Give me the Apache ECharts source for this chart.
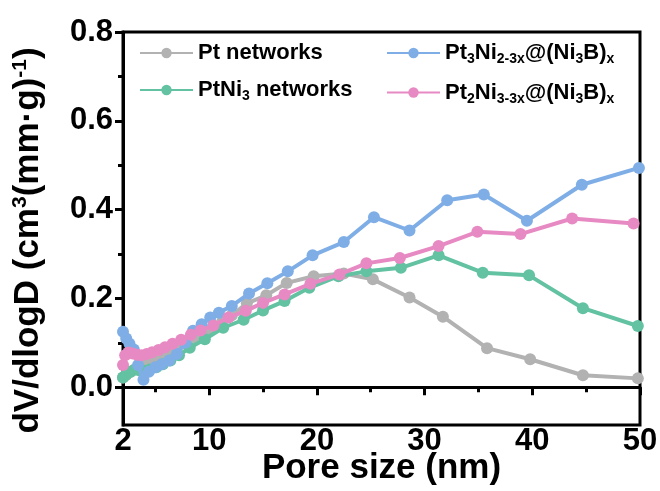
<!DOCTYPE html>
<html>
<head>
<meta charset="utf-8">
<script src="https://cdn.jsdelivr.net/npm/echarts@6/dist/echarts.min.js"></script>
<style>
html,body{margin:0;padding:0;background:#fff;}
#chart{width:660px;height:491px;}
</style>
</head>
<body>
<div id="chart"></div>
<script>
// ---- data ----
const seriesNames = ['Pt networks', 'PtNi3 networks', 'Pt3Ni2-3x@(Ni3B)x', 'Pt2Ni3-3x@(Ni3B)x'];

const ptX = [2.0, 2.3, 2.7, 3.1, 3.6, 4.1, 4.7, 5.3, 6.0, 6.8, 7.7, 8.7, 9.9, 11.2, 12.1, 13.5, 15.3, 17.2, 19.7, 22.5, 25.2, 28.6, 31.7, 35.8, 39.8, 44.7, 49.8];
const ptY = [0.022, 0.028, 0.035, 0.040, 0.046, 0.052, 0.058, 0.066, 0.075, 0.086, 0.098, 0.112, 0.128, 0.147, 0.162, 0.189, 0.207, 0.235, 0.250, 0.256, 0.243, 0.202, 0.159, 0.088, 0.063, 0.027, 0.020];

const ptni3X = [2.0, 2.3, 2.7, 3.1, 3.5, 4.0, 4.5, 5.1, 5.7, 6.4, 7.2, 8.2, 9.6, 11.3, 13.2, 15.0, 17.0, 19.3, 22.0, 24.6, 27.8, 31.3, 35.4, 39.7, 44.7, 49.8];
const ptni3Y = [0.022, 0.028, 0.035, 0.040, 0.038, 0.037, 0.040, 0.045, 0.052, 0.060, 0.072, 0.089, 0.108, 0.134, 0.152, 0.173, 0.194, 0.224, 0.250, 0.261, 0.269, 0.297, 0.258, 0.252, 0.178, 0.138];

const pt3X = [2.0, 2.3, 2.6, 3.0, 3.4, 3.9, 4.4, 5.0, 5.6, 6.3, 7.0, 7.8, 8.5, 9.3, 10.1, 10.9, 12.1, 13.7, 15.4, 17.3, 19.6, 22.5, 25.3, 28.6, 32.1, 35.5, 39.5, 44.6, 49.9];
const pt3Y = [0.125, 0.110, 0.098, 0.085, 0.050, 0.017, 0.035, 0.045, 0.052, 0.060, 0.075, 0.100, 0.127, 0.142, 0.157, 0.168, 0.183, 0.211, 0.234, 0.261, 0.297, 0.327, 0.383, 0.353, 0.421, 0.434, 0.375, 0.456, 0.494];

const pt2X = [2.0, 2.2, 2.5, 2.9, 3.3, 3.7, 4.2, 4.7, 5.3, 5.9, 6.6, 7.4, 8.3, 9.2, 10.4, 11.8, 13.4, 15.0, 17.0, 19.4, 22.1, 24.6, 27.7, 31.3, 34.9, 38.9, 43.7, 49.4];
const pt2Y = [0.050, 0.072, 0.078, 0.076, 0.073, 0.072, 0.075, 0.079, 0.084, 0.090, 0.098, 0.107, 0.118, 0.128, 0.139, 0.157, 0.172, 0.190, 0.209, 0.233, 0.254, 0.279, 0.291, 0.318, 0.350, 0.345, 0.380, 0.369];

const xTickLabels = [2, 10, 20, 30, 40, 50];
const xMinorTicks = [5, 15, 25, 35, 45];
const yTickLabels = [0.0, 0.2, 0.4, 0.6, 0.8];
const yMinorTicks = [0.1, 0.3, 0.5, 0.7];

const colors = ['#B2B2B2', '#62C2A2', '#7FAEE6', '#E78AC3'];

// ---- chart ----
const FONT = '"Liberation Sans", Arial, sans-serif';
const zip = (xs, ys) => xs.map((x, i) => [x, ys[i]]);
const dataSets = [zip(ptX, ptY), zip(ptni3X, ptni3Y), zip(pt3X, pt3Y), zip(pt2X, pt2Y)];

const legendLabels = {
  'Pt networks': 'Pt networks',
  'PtNi3 networks': 'PtNi{s|3} networks',
  'Pt3Ni2-3x@(Ni3B)x': 'Pt{s|3}Ni{s|2-3x}@(Ni{s|3}B){s|x}',
  'Pt2Ni3-3x@(Ni3B)x': 'Pt{s|2}Ni{s|3-3x}@(Ni{s|3}B){s|x}'
};
const legendText = {
  fontFamily: FONT, fontSize: 22, fontWeight: 'bold', color: '#000',
  rich: {
    s: { fontFamily: FONT, fontSize: 14, fontWeight: 'bold', color: '#000', padding: [13, 0, 0, 0] }
  }
};
function legendCfg(names, left) {
  return {
    data: names, orient: 'vertical', left: left, top: 37,
    itemWidth: 53, itemHeight: 13, itemGap: 15,
    textStyle: legendText,
    formatter: n => legendLabels[n]
  };
}

const axisLineStyle = { show: true, lineStyle: { color: '#000', width: 3 } };

const chart = echarts.init(document.getElementById('chart'), null, { renderer: 'canvas' });
chart.setOption({
  animation: false,
  backgroundColor: '#fff',
  color: colors,
  grid: { left: 123, right: 20, top: 32, bottom: 66, outerBoundsMode: 'none', containLabel: false,
          show: true, borderColor: '#000', borderWidth: 3, backgroundColor: 'transparent' },
  legend: [legendCfg([seriesNames[0], seriesNames[1]], 134), legendCfg([seriesNames[2], seriesNames[3]], 381)],
  xAxis: [{
    type: 'value', min: 2, max: 50,
    axisLine: axisLineStyle,
    axisTick: { show: true, inside: false, length: 8, lineStyle: { width: 3, color: '#000' }, customValues: xTickLabels },
    axisLabel: { fontFamily: FONT, fontSize: 31, fontWeight: 'bold', color: '#000', margin: 1, customValues: xTickLabels },
    splitLine: { show: false },
    name: 'Pore size (nm)', nameLocation: 'middle', nameGap: 26, nameMoveOverlap: false,
    nameTextStyle: { fontFamily: FONT, fontSize: 35, fontWeight: 'bold', color: '#000' }
  }, {
    type: 'value', min: 2, max: 50, position: 'bottom',
    axisLine: { show: false },
    axisTick: { show: true, inside: false, length: 5, lineStyle: { width: 3, color: '#000' }, customValues: xMinorTicks },
    axisLabel: { show: false }, splitLine: { show: false }
  }],
  yAxis: [{
    type: 'value', min: -0.085, max: 0.8,
    axisLine: axisLineStyle,
    axisTick: { show: true, inside: false, length: 8, lineStyle: { width: 3, color: '#000' }, customValues: yTickLabels },
    axisLabel: { fontFamily: FONT, fontSize: 31, fontWeight: 'bold', color: '#000', margin: 10, customValues: yTickLabels, formatter: v => v.toFixed(1) },
    splitLine: { show: false },
    name: 'dV/dlogD (cm{p|3}(mm·g){p|-1})', nameLocation: 'middle', nameGap: 77, nameRotate: 90, nameMoveOverlap: false,
    nameTextStyle: { fontFamily: FONT, fontSize: 35, fontWeight: 'bold', color: '#000', padding: [0, 24, 0, 0],
      rich: { p: { fontFamily: FONT, fontSize: 21, fontWeight: 'bold', color: '#000', padding: [0, 0, 15, 0] } } }
  }, {
    type: 'value', min: -0.085, max: 0.8, position: 'left',
    axisLine: { show: false },
    axisTick: { show: true, inside: false, length: 5, lineStyle: { width: 3, color: '#000' }, customValues: yMinorTicks },
    axisLabel: { show: false }, splitLine: { show: false }
  }],
  series: dataSets.map((d, i) => ({
    name: seriesNames[i], type: 'line', data: d,
    xAxisIndex: 0, yAxisIndex: 0,
    symbol: 'circle', symbolSize: 12, showSymbol: true,
    lineStyle: { width: 4, color: colors[i] },
    itemStyle: { color: colors[i] },
    z: 2 + i
  }))
});
</script>
</body>
</html>
